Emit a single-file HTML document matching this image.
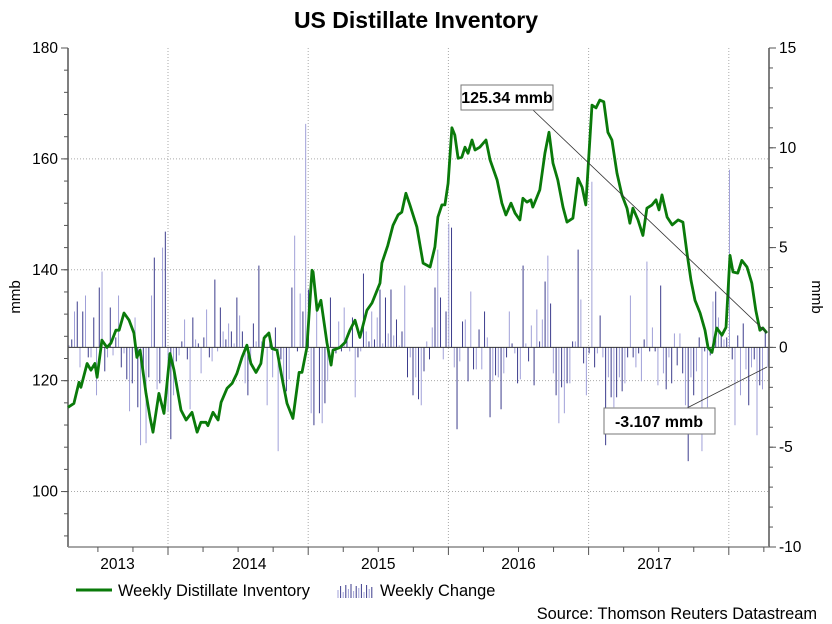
<!DOCTYPE html>
<html><head><meta charset="utf-8"><style>
body{margin:0;background:#fff;}
svg{display:block;font-family:"Liberation Sans",sans-serif;}
</style></head><body>
<svg id="chart" width="832" height="624" viewBox="0 0 832 624">
<text x="416" y="28" text-anchor="middle" font-size="23" font-weight="bold">US Distillate Inventory</text>
<g id="grid"></g>
<g id="bars"></g>
<g id="axes"></g>
<g id="line"></g>
<g id="annot"></g>
<text transform="translate(20,297) rotate(-90)" text-anchor="middle" font-size="15">mmb</text>
<text transform="translate(812,297) rotate(90)" text-anchor="middle" font-size="15">mmb</text>
<g>
<line x1="76" y1="590" x2="112" y2="590" stroke="#0a7a0a" stroke-width="3"/>
<text x="118" y="596" font-size="16.4">Weekly Distillate Inventory</text>
<g id="legbars"></g>
<text x="380" y="596" font-size="16.4">Weekly Change</text>
</g>
<text x="817" y="619" text-anchor="end" font-size="16.4">Source: Thomson Reuters Datastream</text>
</svg>
<script>
// Inventory: week index since start, value (mmb)
const invWeeks=[0,2.2,4.1,4.8,7.1,8.5,10,10.8,12.6,14.5,16,17.8,19,20.8,22.7,24.5,25.6,26.8,29,30.5,31.6,33.8,35.7,37.9,39.4,42,43.9,46.1,48,49.4,51.3,52,53.9,55.8,56.9,59.1,61,62.8,64.7,66.5,68,69.9,71.7,72.9,74.7,75.8,77.7,79.5,81.4,83.6,85.9,87,88.8,90.7,91.1,92.6,94,96.3,97.8,98.5,101.1,103,104.8,106.7,108.5,111.1,113,114.9,116,116.7,118.9,120.8,122.7,124.1,125.6,127.1,129.7,132,134.6,136.4,137.5,139,140.1,141.3,142.7,143.8,145,146.4,147.6,148.7,150.2,151.3,153.1,155.4,156.9,159.5,161.3,162.8,164.7,166.2,168,169.1,170.6,172.1,172.8,174.3,175.4,177.3,178.8,180.3,182.1,184,185.5,187.7,189.6,191.1,192.5,194.8,196.3,197.7,199.2,200.7,202.2,204.1,205.9,207.8,208.9,210,211.9,213.7,215.2,217.1,218.6,219.7,220.8,222.7,224.6,226.8,228.6,230.1,231.6,233.1,235,236.8,237.9,239.4,241.2,243.1,244.6,246.1,247.2,249,250.5,252.4,254.2,255.7,257.2,258.3,259.8];
const invValues=[115.2,115.9,119.7,118.8,123.1,121.9,123.1,120.6,127.3,126,126.8,129.1,129.1,132.2,130.9,128.6,124.2,125.5,117.7,113.4,110.7,117.7,114.1,124.9,121.9,114.7,112.9,114.3,110.7,112.5,112.5,111.9,114.3,112.9,116.1,118.6,119.5,121.3,124.2,126.4,123.1,121.5,123.1,127.7,128.6,125.8,125.5,120.6,115.9,113.2,121.5,121.5,126,139.9,139.6,132.7,134.5,126.8,122.8,125.5,126,126.9,129.1,130.9,127.8,132.7,134,136.3,137.6,141.2,144.4,148,149.9,150.4,153.8,151.7,147.7,141.2,140.5,144.1,149.5,151.7,151.7,155.6,165.6,164.3,160.1,160.3,162.1,161,163.4,161.6,162.1,163.4,159.8,156.2,152,149.9,152,150.2,149,152.9,152.2,152.6,151.3,153.1,154.4,161,164.8,159.2,156.2,151.3,148.6,149.3,156.5,154.9,151.7,169.7,169.2,170.6,170.3,164.8,163.4,157.4,153.5,151.1,148.4,151.1,149,146.2,151.1,151.7,152.6,150.8,153.5,149.5,148.1,149,148.6,143,138.1,134.5,132.2,129.1,126,125.1,129.5,128.2,129.6,142.6,139.6,139.4,141.7,140.5,137.6,132.7,129.1,129.5,128.6];
// Weekly change (mmb), one per week
const changeValues=[0.1,0.4,1.8,2.3,-1.0,1.8,2.6,-0.5,-0.5,1.5,-2.4,3.0,3.8,-1.2,-0.5,2.0,-0.4,0.5,2.6,-1.0,-0.3,-1.6,-3.2,-1.8,1.5,-3.0,-4.9,-1.2,-4.8,-1.5,2.6,4.5,-2.1,-1.8,5.0,5.8,-3.2,-4.6,-2.4,-0.7,-0.4,0.3,1.4,-0.6,-3.1,1.5,0.4,0.2,-1.3,0.5,1.9,-0.5,-0.7,3.4,-0.2,2.0,0.8,0.4,1.2,0.8,0.2,2.5,1.6,0.8,-1.8,-2.4,-0.8,1.2,0.3,4.1,0.3,0.6,-2.9,0.4,-1.5,1.0,-5.2,-0.6,-1.8,-2.2,-1.6,3.0,5.6,-0.2,2.7,1.8,11.2,2.9,-3.3,-3.9,1.9,-3.3,-3.8,-2.8,-1.7,2.5,-0.5,-0.3,1.3,-0.2,2.0,0.5,-0.2,1.5,-2.5,-0.5,-0.2,3.7,0.8,0.3,1.8,0.4,1.5,2.9,0.2,2.5,0.7,2.9,0.6,1.4,0.1,0.8,3.1,-1.5,-0.5,-2.4,-1.5,-2.6,-2.9,-1.2,0.3,-0.6,1.0,3.0,4.9,2.5,-0.6,1.8,6.2,6.0,-1.0,-4.1,-0.7,1.3,1.4,-1.7,2.8,-1.1,-1.1,0.9,-1.1,1.8,0.5,-3.5,-1.7,-1.4,-1.5,-3.1,-1.3,-0.5,1.8,0.2,-0.3,-1.8,-1.6,4.1,0.2,-0.7,1.1,-1.9,1.9,0.3,1.4,3.3,4.6,2.2,-1.3,-2.4,-3.8,-2.0,-3.3,-1.8,-1.8,0.3,0.3,4.9,2.4,-0.8,-2.4,-0.3,8.3,-1.0,-0.3,1.6,-0.5,-4.9,-1.5,-2.5,-3.0,-2.5,-1.5,-2.2,-1.8,-0.5,2.6,-0.5,-1.0,-0.3,-1.7,0.4,4.3,-0.2,1.0,-0.2,-1.9,3.1,-1.3,-2.1,-0.5,-1.8,0.7,-0.9,0.7,-1.3,-2.9,-5.7,-1.5,-2.4,-1.2,0.5,-5.2,-0.2,-3.0,-0.4,2.3,2.8,1.5,0.6,0.4,0.5,8.9,-0.6,-3.9,0.6,-2.4,1.2,-1.1,-2.9,-1.0,-0.6,-4.4,-1.9,-2.1,0.8,-1.0];
const leftTicks=[180,160,140,120,100];
const rightTicks=[15,10,5,0,-5,-10];
const yearLabels=["2013","2014","2015","2016","2017"];
const yearLabelPos=[2013.64,2014.58,2015.5,2016.5,2017.47];
const yearBounds=[2014,2015,2016,2017,2018];

const NS="http://www.w3.org/2000/svg";
const X0=68,X1=769,Y0=48,Y1=547;
const yL=v=>Y0+(180-v)*(Y1-Y0)/90;
const yR=v=>Y0+(15-v)*(Y1-Y0)/25;
const xW=w=>X0+w*2.69;
const xT=t=>168+(t-2014)*140.2;
function mk(tag,attrs,parent){const e=document.createElementNS(NS,tag);for(const k in attrs)e.setAttribute(k,attrs[k]);parent.appendChild(e);return e;}
const grid=document.getElementById('grid'),axes=document.getElementById('axes');
leftTicks.forEach(v=>{if(v===180)return;const l=mk('line',{x1:X0,x2:X1,y1:yL(v),y2:yL(v),stroke:'#aaa','stroke-dasharray':'1,2'},grid);

});
yearBounds.forEach(t=>{const x=xT(t);if(x>X1)return;const l=mk('line',{x1:x,x2:x,y1:Y0,y2:Y1,stroke:'#aaa','stroke-dasharray':'1,2'},grid);

});
const bars=document.getElementById('bars');
const step=(X1-1-69)/(changeValues.length-1);
changeValues.forEach((v,i)=>{const x=69+i*step;const b=mk('line',{x1:x,x2:x,y1:yR(0),y2:yR(v),stroke:i%2?'#3c3c8c':'#a0a0d8','stroke-width':1},bars);

});
const zl=mk('line',{x1:X0,x2:X1,y1:yR(0),y2:yR(0),stroke:'#333','stroke-width':1},bars);


const la=mk('line',{x1:X0,x2:X0,y1:Y0,y2:Y1,stroke:'#555','stroke-width':1.5},axes);


const ra=mk('line',{x1:X1,x2:X1,y1:Y0,y2:Y1,stroke:'#555','stroke-width':1.5},axes);


const ba=mk('line',{x1:X0,x2:X1,y1:Y1,y2:Y1,stroke:'#888','stroke-width':1.5},axes);


for(let v=180;v>=92;v-=4){mk('line',{x1:X0-4,x2:X0,y1:yL(v),y2:yL(v),stroke:'#555'},axes);}
leftTicks.forEach(v=>{mk('line',{x1:X0-7,x2:X0,y1:yL(v),y2:yL(v),stroke:'#555'},axes);
const t=mk('text',{x:X0-10,y:yL(v)+5,'text-anchor':'end','font-size':15.5},axes);t.textContent=v;

});
for(let v=15;v>=-10;v--){mk('line',{x1:X1,x2:X1+4,y1:yR(v),y2:yR(v),stroke:'#555'},axes);}
rightTicks.forEach(v=>{mk('line',{x1:X1,x2:X1+7,y1:yR(v),y2:yR(v),stroke:'#555'},axes);
const t=mk('text',{x:X1+10,y:yR(v)+5,'font-size':15.5},axes);t.textContent=v;

});
for(let t=2013.5;t<2018.3;t+=0.25){const x=xT(t);if(x<X0||x>X1)continue;const major=Math.abs(t-Math.round(t))<0.01;
mk('line',{x1:x,x2:x,y1:Y1,y2:Y1+(major?8:5),stroke:'#555'},axes);}
yearLabels.forEach((s,i)=>{const t=mk('text',{x:xT(yearLabelPos[i]),y:569,'text-anchor':'middle','font-size':15.5},axes);t.textContent=s;

});
let d='';invWeeks.forEach((w,i)=>{d+=(i?'L':'M')+xW(w).toFixed(1)+','+yL(invValues[i]).toFixed(1);});
const p=mk('path',{d:d,fill:'none',stroke:'#0a7a0a','stroke-width':2.8,'stroke-linejoin':'round'},document.getElementById('line'));


const lb=document.getElementById('legbars');
[8,12,6,13,9,14,7,12,10,14,6,13,9,11].forEach((h,i)=>{mk('line',{x1:338+i*2.6,x2:338+i*2.6,y1:598,y2:598-h,stroke:i%2?'#3c3c8c':'#a0a0d8'},lb);});
const an=document.getElementById('annot');
const l1=mk('line',{x1:533,y1:110,x2:767,y2:333,stroke:'#333','stroke-width':0.8},an);


const l2=mk('line',{x1:687,y1:408,x2:767,y2:367,stroke:'#333','stroke-width':0.8},an);


const b1=mk('rect',{x:461,y:85,width:92,height:25,fill:'#fff',stroke:'#777'},an);


const t1=mk('text',{x:507,y:103,'text-anchor':'middle','font-size':16,'font-weight':'bold'},an);t1.textContent='125.34 mmb';


const b2=mk('rect',{x:604,y:408,width:111,height:26,fill:'#fff',stroke:'#777'},an);


const t2=mk('text',{x:659,y:427,'text-anchor':'middle','font-size':16,'font-weight':'bold'},an);t2.textContent='-3.107 mmb';


</script>
</body></html>
